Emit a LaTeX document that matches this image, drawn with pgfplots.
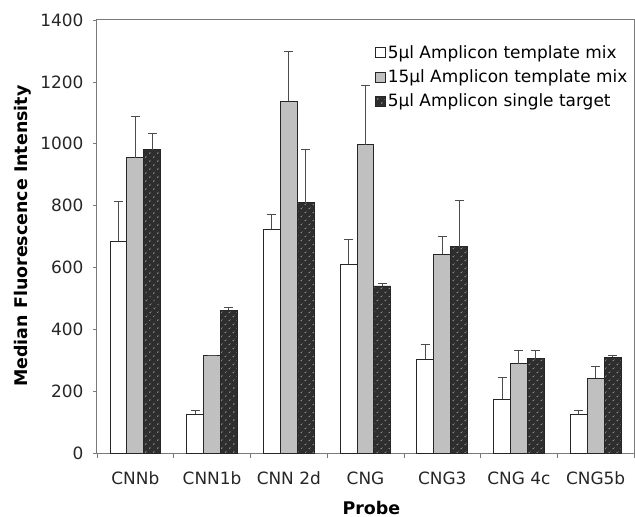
\documentclass[border=0pt]{standalone}
\usepackage{fontspec}
\setmainfont{DejaVu Sans}
\usepackage{pgfplots}
\pgfplotsset{compat=1.18}
\usetikzlibrary{patterns.meta}

\definecolor{barGray}{HTML}{C0C0C0}
\definecolor{barDark}{HTML}{2E2E2E}
\definecolor{dotGray}{HTML}{B4B4B4}
\definecolor{axGray}{HTML}{7A7A7A}

\pgfplotsset{
  errstyle/.style={
    error bars/y dir=plus,
    error bars/y explicit,
    error bars/error bar style={draw=black!70, line width=0.9bp},
    error bars/error mark options={rotate=90, mark size=4.5bp, draw=black!70, line width=0.9bp},
  },
}

\begin{document}
\begin{tikzpicture}
\begin{axis}[
  scale only axis,
  width=537bp, height=433bp,
  ybar=0pt,
  bar width=0.22,
  xmin=-0.5, xmax=6.5,
  ymin=0, ymax=1400,
  ytick={0,200,...,1400},
  xtick={0,...,6},
  xticklabels={CNNb,CNN1b,CNN 2d,CNG,CNG3,CNG 4c,CNG5b},
  minor xtick={-0.5,0.5,...,6.5},
  tick pos=left,
  tick align=outside,
  major tick length=4bp,
  minor tick length=5bp,
  x tick style={draw=none},
  minor x tick style={draw=axGray, line width=0.6bp},
  y tick style={draw=axGray, line width=0.6bp},
  axis line style={draw=axGray, line width=1bp},
  /pgf/number format/assume math mode=true,
  /pgf/number format/1000 sep={},
  tick label style={font=\fontsize{17}{20}\selectfont, text=black!85},
  yticklabel style={xshift=-6bp},
  xticklabel style={yshift=-11bp},
  ylabel={\bfseries Median Fluorescence Intensity},
  xlabel={\bfseries Probe},
  label style={font=\fontsize{17.5}{20}\selectfont},
  ylabel style={at={(axis description cs:-0.138,0.501)}, anchor=center},
  xlabel style={at={(axis description cs:0.511,-0.141)}, anchor=base},
  legend style={at={(0.512,0.951)}, anchor=north west, draw=none, fill=none,
    font=\fontsize{17}{20}\selectfont, row sep=6bp,
    /tikz/every even column/.append style={column sep=3bp}},
  legend cell align={left},
  legend image code/.code={\draw[#1, line width=0.7bp] (0bp,-5bp) rectangle (10bp,5bp);},
]
\coordinate (bl) at (rel axis cs:0,0);
\coordinate (tr) at (rel axis cs:1,1);

\addplot[fill=white, draw=black!85, line width=0.9bp, errstyle]
  coordinates {(0,685) +- (0,127) (1,125) +- (0,11) (2,724) +- (0,48) (3,610) +- (0,82)
               (4,304) +- (0,47) (5,174) +- (0,69) (6,125) +- (0,12)};
\addlegendentry{5µl Amplicon template mix}

\addplot[fill=barGray, draw=black!85, line width=0.9bp, errstyle]
  coordinates {(0,954) +- (0,133) (1,314) +- (0,2) (2,1138) +- (0,159) (3,996) +- (0,191)
               (4,642) +- (0,57) (5,289) +- (0,44) (6,242) +- (0,37)};
\addlegendentry{15µl Amplicon template mix}

\addplot[fill=barDark, draw=black!85, line width=0.9bp, errstyle,
  postaction={pattern={Dots[distance=6bp, radius=0.9bp, angle=45]}, pattern color=dotGray}]
  coordinates {(0,980) +- (0,54) (1,461) +- (0,8) (2,809) +- (0,174) (3,540) +- (0,9)
               (4,667) +- (0,149) (5,305) +- (0,26) (6,310) +- (0,6)};
\addlegendentry{5µl Amplicon single target}
\end{axis}
\pgfresetboundingbox
\path ([shift={(-97bp,-64bp)}]bl) rectangle ([shift={(1bp,20bp)}]tr);
\end{tikzpicture}
\end{document}
